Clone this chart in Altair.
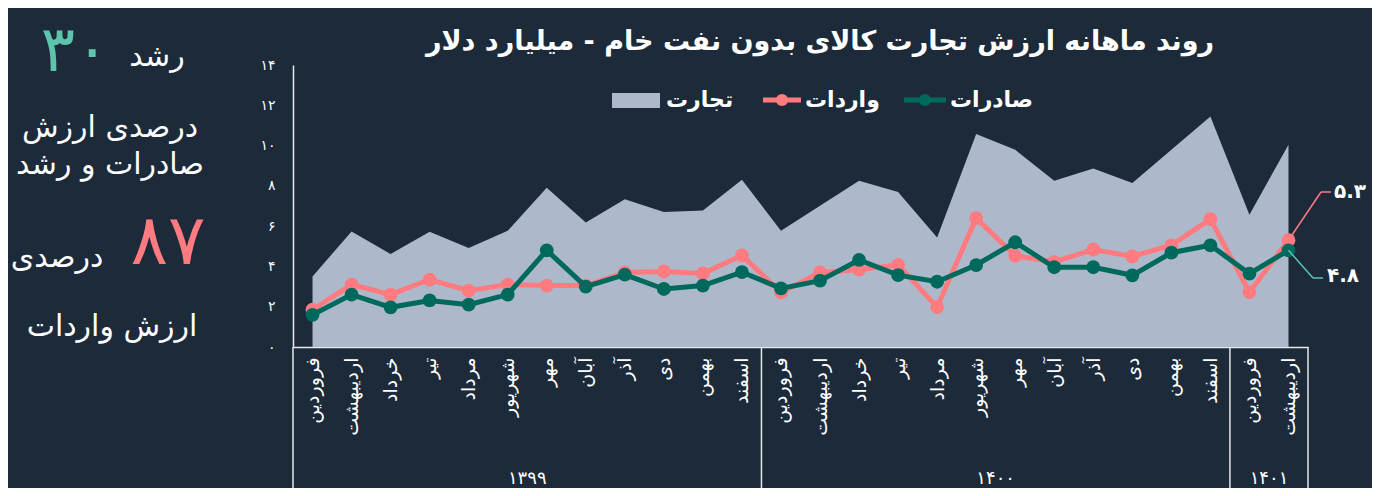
import altair as alt
import pandas as pd

# ---------------- data ----------------
months = ['فروردین', 'اردیبهشت', 'خرداد', 'تیر', 'مرداد', 'شهریور',
          'مهر', 'آبان', 'آذر', 'دی', 'بهمن', 'اسفند']
years = ['۱۳۹۹', '۱۴۰۰', '۱۴۰۱']
year_counts = [12, 12, 2]

trade = [3.50, 5.74, 4.62, 5.72, 4.91, 5.77, 7.91, 6.18, 7.34, 6.70, 6.78, 8.30,
         5.77, 7.01, 8.25, 7.69, 5.44, 10.57, 9.79, 8.25, 8.86, 8.14, 9.79, 11.44,
         6.57, 10.04]
imports_ = [1.85, 3.10, 2.60, 3.35, 2.80, 3.10, 3.05, 3.05, 3.70, 3.75, 3.65, 4.55,
            2.71, 3.70, 3.84, 4.08, 1.98, 6.40, 4.53, 4.22, 4.84, 4.50, 5.05, 6.35,
            2.72, 5.30]
exports_ = [1.60, 2.60, 1.97, 2.31, 2.10, 2.60, 4.80, 3.00, 3.59, 2.88, 3.05, 3.72,
            2.91, 3.29, 4.32, 3.57, 3.24, 4.07, 5.20, 3.96, 3.96, 3.56, 4.68, 5.05,
            3.64, 4.80]
y_tick_values = [0, 2, 4, 6, 8, 10, 12, 14]
y_tick_labels = ['۰', '۲', '۴', '۶', '۸', '۱۰', '۱۲', '۱۴']
end_labels = ['۵.۳', '۴.۸']

title_text = 'روند ماهانه ارزش تجارت کالای بدون نفت خام - میلیارد دلار'
legend_names = ['تجارت', 'واردات', 'صادرات']

# ---------------- styling ----------------
BG = '#1c2a3a'
AREA = '#adb8ca'
PINK = '#ff7b80'
GREEN = '#00695e'
TEAL = '#5cc4aa'
FONT = 'DejaVu Sans'
W, H = 1015, 282
HALF = W / 26 / 2

keys = []
i = 0
for yr, n in zip(years, year_counts):
    for m in months[:n]:
        keys.append(f"{i:02d}{m}")
        i += 1

df = pd.DataFrame({'key': keys, 'trade': trade, 'imp': imports_, 'exp': exports_})

xaxis = alt.Axis(labelExpr="substring(datum.label, 2)", labelAngle=270,
                 labelAlign='right', labelBaseline='middle', labelColor='white',
                 labelFontSize=19, labelPadding=10, ticks=False, grid=False,
                 domainColor='#e6e9ee', domainWidth=1.5, title=None, labelFont=FONT,
                 labelLimit=200)
X = alt.X('key:N', sort=keys, scale=alt.Scale(type='point', padding=0.5), axis=xaxis)

label_expr_y = "[" + ",".join(f"'{s}'" for s in y_tick_labels) + "][datum.value/2]"
yaxis = alt.Axis(values=y_tick_values, labelExpr=label_expr_y, grid=False, ticks=False,
                 domainColor='#e6e9ee', domainWidth=1.5, labelColor='white',
                 labelFontSize=14, labelPadding=18, title=None, labelFont=FONT)
yscale = alt.Scale(domain=[0, 14], nice=False, zero=True)

base = alt.Chart(df)
area = base.mark_area(color=AREA, opacity=1).encode(
    x=X, y=alt.Y('trade:Q', scale=yscale, axis=yaxis))
imp_line = base.mark_line(color=PINK, strokeWidth=5,
                          point=alt.OverlayMarkDef(color=PINK, size=190, filled=True, opacity=1)).encode(
    x=X, y=alt.Y('imp:Q', scale=yscale, axis=yaxis))
exp_line = base.mark_line(color=GREEN, strokeWidth=5,
                          point=alt.OverlayMarkDef(color=GREEN, size=190, filled=True, opacity=1)).encode(
    x=X, y=alt.Y('exp:Q', scale=yscale, axis=yaxis))

# table separators below the axis
sep_df = pd.DataFrame({'key': [keys[0], keys[12], keys[24]]})
seps = alt.Chart(sep_df).mark_rule(color='#e6e9ee', strokeWidth=1.5, xOffset=-HALF).encode(
    x=X, y=alt.value(H), y2=alt.value(H + 160))
sep_right = alt.Chart(pd.DataFrame({'key': [keys[-1]]})).mark_rule(
    color='#e6e9ee', strokeWidth=1.5, xOffset=HALF).encode(
    x=X, y=alt.value(H), y2=alt.value(H + 160))

# year labels
starts = [0]
for n in year_counts[:-1]:
    starts.append(starts[-1] + n)
yr_keys = [keys[s + (n // 2) - 1] for s, n in zip(starts, year_counts)]
yr_df = pd.DataFrame({'key': yr_keys, 'label': years})
yr_text = alt.Chart(yr_df).mark_text(color='white', fontSize=18, font=FONT, dx=HALF,
                                     baseline='middle').encode(
    x=X, text='label:N', y=alt.value(414))


def txt(t, x, y, size=30, color='white', weight='normal', align='center'):
    return alt.Chart(pd.DataFrame({'t': [t]})).mark_text(
        color=color, fontSize=size, font=FONT, fontWeight=weight, align=align,
        baseline='middle').encode(text='t:N', x=alt.value(x), y=alt.value(y))


def rule(x1, y1, x2, y2, color, width=2):
    return alt.Chart(pd.DataFrame({'a': [0]})).mark_rule(color=color, strokeWidth=width).encode(
        x=alt.value(x1), y=alt.value(y1), x2=alt.value(x2), y2=alt.value(y2))


def dot(x, y, color):
    return alt.Chart(pd.DataFrame({'a': [0]})).mark_point(
        color=color, filled=True, size=150, opacity=1).encode(x=alt.value(x), y=alt.value(y))


layers = [area, imp_line, exp_line, seps, sep_right, yr_text]

# title
layers.append(txt(title_text, 527, -23, size=27, weight='bold'))

# legend
layers.append(alt.Chart(pd.DataFrame({'a': [0]})).mark_rect(color=AREA).encode(
    x=alt.value(319), x2=alt.value(367), y=alt.value(28), y2=alt.value(43)))
layers.append(txt(legend_names[0], 373, 35, size=22, weight='bold', align='left'))
layers.append(rule(470, 35, 508, 35, PINK, 5))
layers.append(dot(489, 35, PINK))
layers.append(txt(legend_names[1], 512, 35, size=22, weight='bold', align='left'))
layers.append(rule(611, 35, 653, 35, GREEN, 5))
layers.append(dot(632, 35, GREEN))
layers.append(txt(legend_names[2], 657, 35, size=22, weight='bold', align='left'))

# end annotations
last = pd.DataFrame({'key': [keys[-1]], 'imp': [imports_[-1]], 'exp': [exports_[-1]]})
layers.append(alt.Chart(last).mark_rule(color=PINK, strokeWidth=1.5).encode(
    x=X, y=alt.Y('imp:Q', scale=yscale, axis=yaxis), x2=alt.value(1028), y2=alt.value(127)))
layers.append(rule(1028, 127, 1038, 127, PINK, 1.5))
layers.append(alt.Chart(last).mark_rule(color=TEAL, strokeWidth=1.5).encode(
    x=X, y=alt.Y('exp:Q', scale=yscale, axis=yaxis), x2=alt.value(1020), y2=alt.value(213)))
layers.append(rule(1020, 213, 1030, 213, TEAL, 1.5))
layers.append(txt(end_labels[0], 1041, 127, size=20, weight='bold', align='left'))
layers.append(txt(end_labels[1], 1034, 211, size=20, weight='bold', align='left'))

# left panel
layers.append(txt('۳۰', -218, -13, size=64, color=TEAL))
layers.append(txt('رشد', -136, -8, size=30))
layers.append(txt('درصدی ارزش', -183, 63, size=30))
layers.append(txt('صادرات و رشد', -183, 100, size=30))
layers.append(txt('۸۷', -125, 178, size=70, color=PINK))
layers.append(txt('درصدی', -236, 193, size=30))
layers.append(txt('ارزش واردات', -181, 262, size=30))

chart = alt.layer(*layers).properties(
    width=W, height=H,
    padding={'left': 285, 'top': 57, 'right': 64, 'bottom': 141},
    autosize=alt.AutoSizeParams(type='none'),
    background=BG,
).configure_view(stroke=None)

chart.save("out.html", embed_options={"renderer": "svg", "actions": False})
